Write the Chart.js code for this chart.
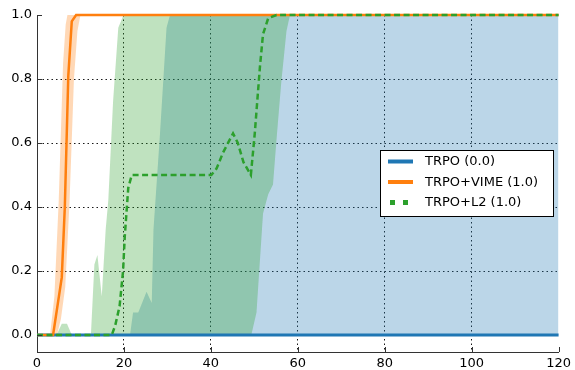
<!DOCTYPE html>
<html>
<head>
<meta charset="utf-8">
<script src="https://cdn.jsdelivr.net/npm/chart.js@4/dist/chart.umd.min.js"></script>
<style>
html,body{margin:0;padding:0;background:#fff;}
canvas{display:block;}
</style>
</head>
<body>
<canvas id="c" width="575" height="370"></canvas>
<script>
// ---- data ----
const xTicks = [0, 20, 40, 60, 80, 100, 120];
const yTicks = [0.0, 0.2, 0.4, 0.6, 0.8, 1.0];
const seriesLabels = ["TRPO (0.0)", "TRPO+VIME (1.0)", "TRPO+L2 (1.0)"];

// TRPO
const trpoX = [0, 120];
const trpoMean = [0, 0];
const trpoUpX = [0, 21.4, 22.1, 23.3, 25.2, 26.4, 26.8, 28.3, 29.8, 30.6, 120];
const trpoUp  = [0, 0, 0.07, 0.07, 0.135, 0.10, 0.33, 0.63, 0.96, 1, 1];

// TRPO+VIME
const vimeX = [0, 3.7, 5.7, 6.4, 7.2, 8.0, 9.0, 120];
const vimeMean = [0, 0, 0.18, 0.40, 0.81, 0.98, 1, 1];
const vimeUpX = [0, 3.0, 4.0, 5.0, 6.0, 6.6, 7.0, 120];
const vimeUp  = [0, 0, 0.12, 0.42, 0.85, 0.97, 1, 1];
const vimeLoX = [0, 4.6, 5.5, 6.5, 7.5, 8.5, 9.3, 10, 120];
const vimeLo  = [0, 0, 0.05, 0.15, 0.42, 0.8, 0.95, 1, 1];

// TRPO+L2
const l2X = [0, 17.2, 18, 19, 19.8, 20.2, 21, 21.8, 40.1, 41.3, 42.8, 45.1, 46.2, 47.5, 49.2, 50.1, 51.3, 52.0, 53.2, 55.1, 120];
const l2Mean = [0, 0, 0.03, 0.09, 0.20, 0.31, 0.46, 0.5, 0.5, 0.52, 0.57, 0.63, 0.60, 0.54, 0.5, 0.63, 0.84, 0.94, 0.99, 1, 1];
const l2UpX = [0, 4.5, 5.7, 6.9, 8, 12.4, 13.2, 13.9, 14.9, 15.8, 16.4, 17.5, 18.7, 19.9, 120];
const l2Up  = [0, 0, 0.035, 0.035, 0, 0, 0.22, 0.25, 0.12, 0.33, 0.42, 0.73, 0.96, 1, 1];
const l2LoX = [0, 49.3, 50.5, 52.0, 53.2, 54.3, 55.1, 56.2, 57.4, 58.2, 120];
const l2Lo  = [0, 0, 0.07, 0.38, 0.44, 0.47, 0.61, 0.79, 0.95, 1, 1];

const BLUE = '#1f77b4', ORANGE = '#ff7f0e', GREEN = '#2ca02c';

const pts = (xs, ys) => xs.map((x, i) => ({x: x, y: ys[i]}));

Chart.defaults.font.family = "'DejaVu Sans', sans-serif";
Chart.defaults.font.size = 13;
Chart.defaults.color = '#000';

const lineBase = {pointRadius: 0, tension: 0, clip: 3};
const bandBase = {pointRadius: 0, tension: 0, borderWidth: 0, borderColor: 'rgba(0,0,0,0)'};

const datasets = [
  Object.assign({label: seriesLabels[2], data: pts(l2X, l2Mean), borderColor: GREEN, borderWidth: 2.5, borderDash: [6, 3.5], fill: false}, lineBase),
  Object.assign({label: seriesLabels[1], data: pts(vimeX, vimeMean), borderColor: ORANGE, borderWidth: 2.5, fill: false}, lineBase),
  Object.assign({label: seriesLabels[0], data: pts(trpoX, trpoMean), borderColor: BLUE, borderWidth: 2.8, fill: false}, lineBase),
  Object.assign({label: 'l2 band', data: pts(l2UpX, l2Up), backgroundColor: 'rgba(44,160,44,0.3)', fill: {target: 4}}, bandBase),
  Object.assign({label: 'l2 lo', data: pts(l2LoX, l2Lo), fill: false}, bandBase),
  Object.assign({label: 'vime band', data: pts(vimeUpX, vimeUp), backgroundColor: 'rgba(255,127,14,0.3)', fill: {target: 6}}, bandBase),
  Object.assign({label: 'vime lo', data: pts(vimeLoX, vimeLo), fill: false}, bandBase),
  Object.assign({label: 'trpo band', data: pts(trpoUpX, trpoUp), backgroundColor: 'rgba(31,119,180,0.3)', fill: 'origin'}, bandBase)
];

const inwardTicks = {
  id: 'inwardTicks',
  afterDraw(chart) {
    const ctx = chart.ctx, a = chart.chartArea;
    const xs = chart.scales.x, ys = chart.scales.y;
    ctx.save();
    ctx.strokeStyle = '#333';
    ctx.lineWidth = 1;
    ctx.beginPath();
    yTicks.forEach(v => {
      const py = Math.round(ys.getPixelForValue(v)) + 0.5;
      ctx.moveTo(a.left, py); ctx.lineTo(a.left + 5, py);
    });
    xTicks.forEach(v => {
      const px = Math.round(xs.getPixelForValue(v)) + 0.5;
      ctx.moveTo(px, a.bottom); ctx.lineTo(px, a.bottom - 5);
    });
    ctx.stroke();
    ctx.restore();
  }
};

const boxLegend = {
  id: 'boxLegend',
  afterDraw(chart) {
    const ctx = chart.ctx;
    ctx.save();
    ctx.fillStyle = '#fff';
    ctx.fillRect(380, 150, 173, 66);
    ctx.strokeStyle = '#000';
    ctx.lineWidth = 1;
    ctx.strokeRect(380.5, 150.5, 173, 66);
    const rows = [161.5, 182, 202.5];
    ctx.strokeStyle = BLUE; ctx.lineWidth = 4;
    ctx.beginPath(); ctx.moveTo(388, rows[0]); ctx.lineTo(413, rows[0]); ctx.stroke();
    ctx.strokeStyle = ORANGE; ctx.lineWidth = 4;
    ctx.beginPath(); ctx.moveTo(388, rows[1]); ctx.lineTo(413, rows[1]); ctx.stroke();
    ctx.fillStyle = GREEN;
    ctx.fillRect(390, rows[2] - 2.5, 5, 5);
    ctx.fillRect(403, rows[2] - 2.5, 5, 5);
    ctx.fillStyle = '#000';
    ctx.font = "13px 'DejaVu Sans', sans-serif";
    ctx.textBaseline = 'middle';
    ctx.textAlign = 'left';
    seriesLabels.forEach((t, i) => ctx.fillText(t, 425, rows[i] + 0.5));
    ctx.restore();
  }
};

const gridColor = (skip) => (c) => (c.tick && skip.includes(c.tick.value)) ? 'rgba(0,0,0,0)' : 'rgba(0,0,0,0.9)';

new Chart(document.getElementById('c'), {
  type: 'line',
  data: {datasets: datasets},
  options: {
    responsive: false,
    animation: false,
    devicePixelRatio: 1,
    layout: {padding: {top: 15, right: 16, left: 0, bottom: 0}},
    plugins: {
      legend: {display: false},
      tooltip: {enabled: false},
      filler: {propagate: false}
    },
    scales: {
      x: {
        type: 'linear', min: 0, max: 120, z: 1,
        afterBuildTicks: s => { s.ticks = xTicks.map(v => ({value: v})); },
        afterFit: s => { s.height = 18; },
        ticks: {padding: 4, maxRotation: 0, font: {size: 13}, color: '#000'},
        grid: {drawTicks: false, color: gridColor([0, 120]), lineWidth: 1},
        border: {display: true, color: '#333', width: 1, dash: [1.5, 3]}
      },
      y: {
        type: 'linear', min: -0.0531, max: 1.0, z: 1,
        afterBuildTicks: s => { s.ticks = yTicks.map(v => ({value: v})); },
        afterFit: s => { s.width = 37; },
        ticks: {padding: 5, font: {size: 13}, color: '#000', callback: v => Number(v).toFixed(1)},
        grid: {drawTicks: false, color: gridColor([1]), lineWidth: 1},
        border: {display: true, color: '#333', width: 1, dash: [1.5, 3]}
      }
    }
  },
  plugins: [inwardTicks, boxLegend]
});
</script>
</body>
</html>
